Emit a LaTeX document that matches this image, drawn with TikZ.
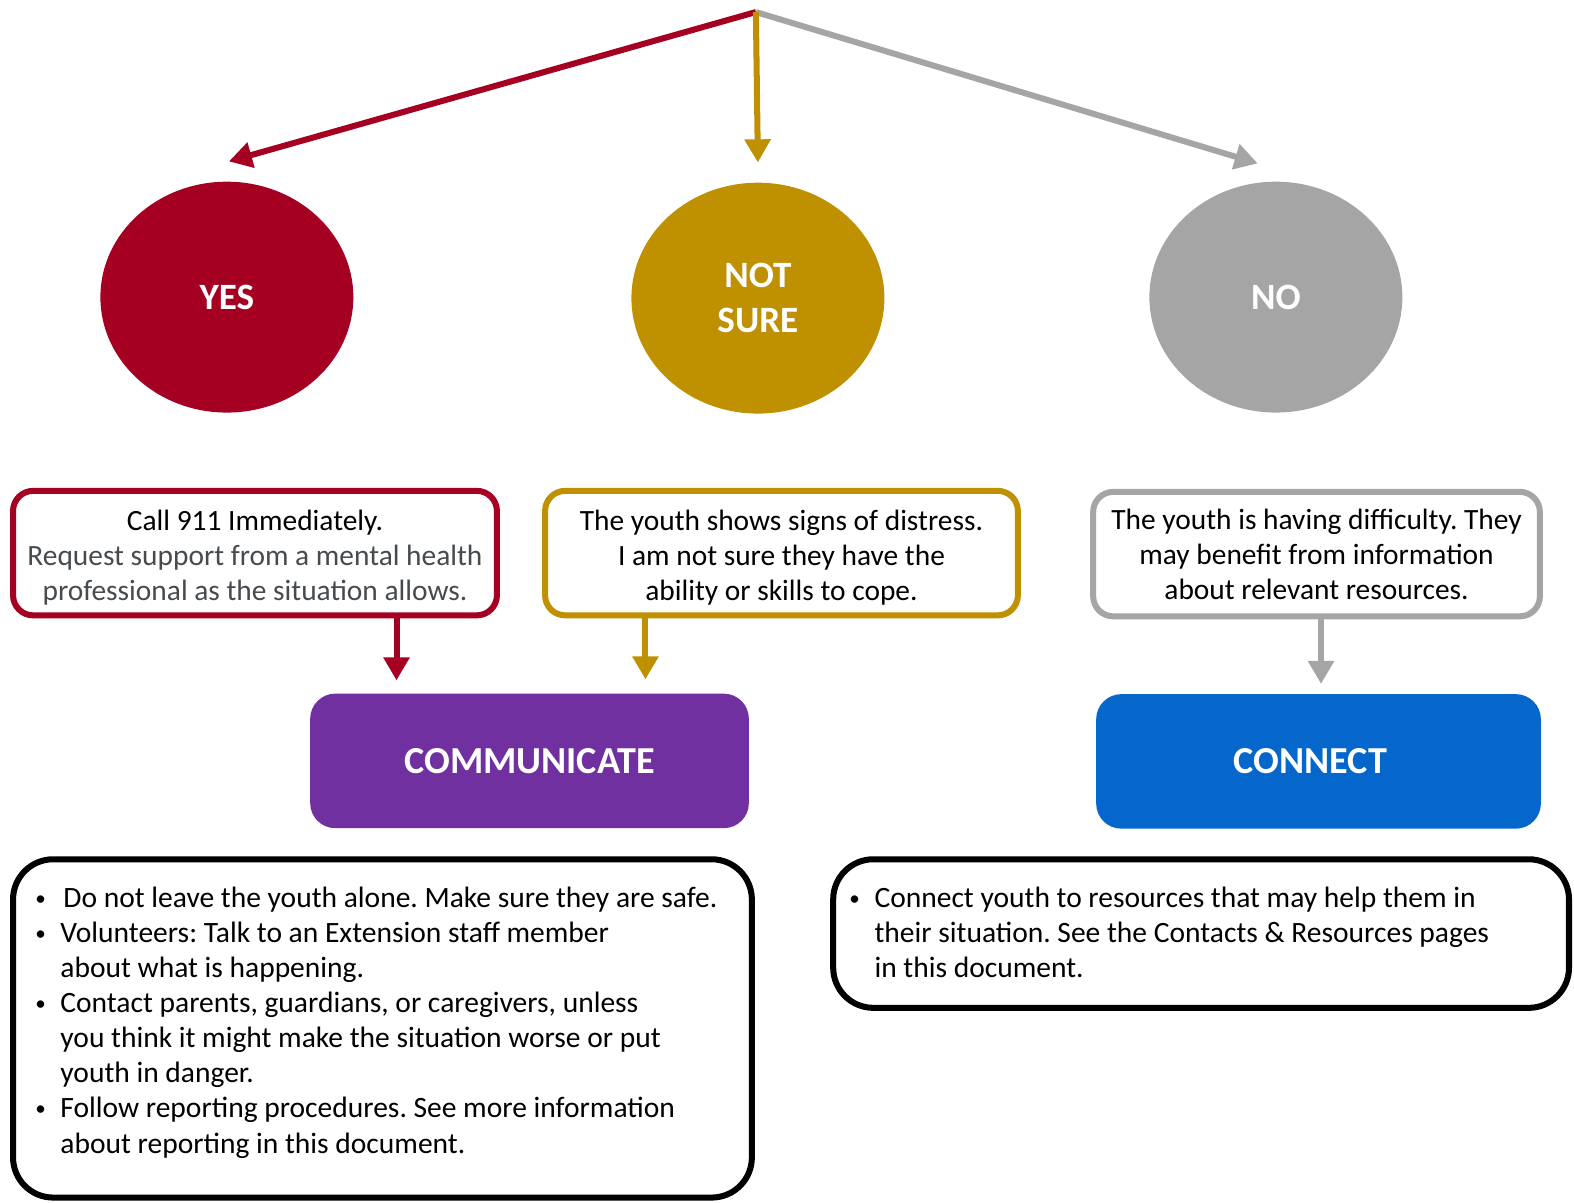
\documentclass[tikz,border=0pt]{standalone}
\usepackage{fontspec}
\setmainfont{Carlito}
\frenchspacing
\usetikzlibrary{shapes.geometric,arrows.meta,positioning}
\definecolor{yescol}{HTML}{A50021}
\definecolor{notcol}{HTML}{BF9000}
\definecolor{nocol}{HTML}{A5A5A5}
\definecolor{commcol}{HTML}{7030A0}
\definecolor{conncol}{HTML}{0566CC}
\definecolor{softgray}{HTML}{464B50}
\newcommand{\bul}{\makebox[25pt][l]{\raisebox{2pt}{\fontsize{21}{21}\selectfont\textbullet}}}
\newcommand{\cont}{\hspace*{25pt}}
\newcommand{\lift}[1]{\rule{0pt}{#1pt}}
\tikzset{
  answer/.style={ellipse, minimum width=252, minimum height=230, inner sep=0, text=white, align=center,
    font=\fontsize{37}{45}\selectfont\bfseries},
  infobox/.style={draw, fill=white, line width=6, rounded corners=20, minimum height=124, align=center,
    font=\fontsize{29.3}{35}\selectfont},
  actbox/.style={rounded corners=25, text=white, minimum height=134, font=\fontsize{38}{40}\selectfont\bfseries},
  listbox/.style={draw=black, line width=6, rounded corners=40},
  listtext/.style={anchor=north west, inner sep=0, align=left, font=\fontsize{29.4}{35}\selectfont},
  flow/.style={line width=6, -{Triangle[width=25,length=23]}},
}
\begin{document}
\begin{tikzpicture}[x=1pt, y=-1pt]
\useasboundingbox (0,0) rectangle (1568,1198);
% answers
\coordinate (top) at (753,12);
\node[answer, fill=yescol] (yes) at (226,296) {YES};
\node[answer, fill=notcol] (notsure) at (755,297) {NOT\\SURE};
\node[answer, fill=nocol] (no) at (1271,296) {NO};
\draw[flow, yescol] (top) -- ([xshift=2, yshift=20]yes.north);
\draw[flow, nocol] (top) -- ([xshift=-18, yshift=18]no.north);
\draw[flow, notcol] (top) -- ([yshift=20]notsure.north);
% what it means
\node[infobox, draw=yescol, minimum width=482] (yesbox) at (254,551)
  {\lift{29}Call 911 Immediately.\\ \textcolor{softgray}{Request support from a mental health}\\ \textcolor{softgray}{professional as the situation allows.}};
\node[infobox, draw=notcol, minimum width=471] (notbox) at (778.5,551)
  {\lift{29}The youth shows signs of distress.\\ I am not sure they have the\\ ability or skills to cope.};
\node[infobox, draw=nocol, minimum width=445] (nobox) at (1311.5,552)
  {The youth is having difficulty. They\\ may benefit from information\\ about relevant resources.};
% actions
\node[actbox, fill=commcol, minimum width=437] (comm) at (527.5,758) {COMMUNICATE};
\node[actbox, fill=conncol, minimum width=443] (conn) at (1313.5,758.5) {CONNECT\hspace*{16pt}};
\coordinate (yesout) at ([xshift=141]yesbox.south);
\coordinate (notout) at ([xshift=-135.5]notbox.south);
\coordinate (noout) at ([xshift=4.5]nobox.south);
\draw[flow, yescol, shorten >=13] (yesout) -- (yesout |- comm.north);
\draw[flow, notcol, shorten >=14] (notout) -- (notout |- comm.north);
\draw[flow, nocol, shorten >=10] (noout) -- (noout |- conn.north);
% lists
\node[listbox, minimum width=736, minimum height=337] (commlist) at (381,1024.5) {};
\node[listbox, minimum width=733, minimum height=148] (connlist) at (1196.5,930) {};
\node[listtext] (commtext) at ([xshift=25, yshift=-30]commlist.north west)
  {\bul\hspace{3pt}Do not leave the youth alone. Make sure they are safe.\\
   \bul Volunteers: Talk to an Extension staff member\\
   \cont about what is happening.\\
   \bul Contact parents, guardians, or caregivers, unless\\
   \cont you think it might make the situation worse or put\\
   \cont youth in danger.\\
   \bul Follow reporting procedures. See more information\\
   \cont about reporting in this document.};
\node[listtext] (conntext) at ([xshift=19, yshift=-30]connlist.north west)
  {\bul Connect youth to resources that may help them in\\
   \cont their situation. See the Contacts \& Resources pages\\
   \cont in this document.};
\end{tikzpicture}
\end{document}
